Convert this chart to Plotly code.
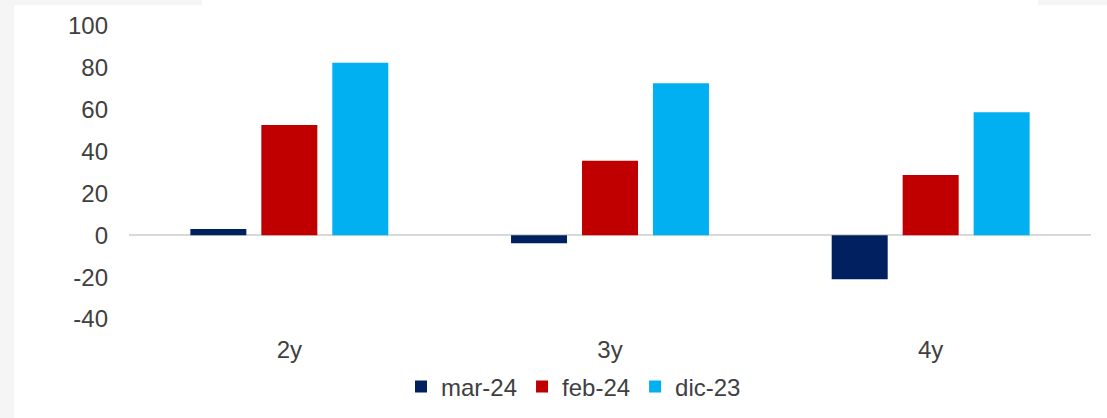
import plotly.graph_objects as go

categories = ["2y", "3y", "4y"]
series_names = ["mar-24", "feb-24", "dic-23"]
mar24 = [3.0, -3.8, -21.0]
feb24 = [52.7, 35.6, 28.8]
dic23 = [82.5, 72.6, 58.8]
colors = ["#002060", "#C00000", "#00B0F0"]
y_ticks = [-40, -20, 0, 20, 40, 60, 80, 100]
y_tick_labels = ["-40", "-20", "0", "20", "40", "60", "80", "100"]

fig = go.Figure()
for name, vals, col in zip(series_names, [mar24, feb24, dic23], colors):
    fig.add_trace(go.Bar(x=categories, y=vals, name=name,
                         marker=dict(color=col, line=dict(width=0))))

W, H = 1107, 418
L, R, T, B = 129, 16, 26, 99
pw, ph = W - L - R, H - T - B

def px(x):
    return (x - L) / pw

def py(y):
    return (H - B - y) / ph

gray = "#f5f5f5"
shapes = [
    dict(type="rect", xref="paper", yref="paper", x0=px(0), x1=px(14), y0=py(H), y1=py(0),
         fillcolor=gray, line=dict(width=0), layer="below"),
    dict(type="rect", xref="paper", yref="paper", x0=px(14), x1=px(202), y0=py(5), y1=py(0),
         fillcolor=gray, line=dict(width=0), layer="below"),
    dict(type="rect", xref="paper", yref="paper", x0=px(1038), x1=px(W), y0=py(5), y1=py(0),
         fillcolor=gray, line=dict(width=0), layer="below"),
]

font = dict(family="Liberation Sans, Arial, sans-serif", size=24, color="#404040")

fig.update_layout(
    width=W, height=H,
    margin=dict(l=L, r=R, t=T, b=B, autoexpand=False),
    paper_bgcolor="white", plot_bgcolor="white",
    barmode="group", bargap=0.336, bargroupgap=0.211,
    font=font,
    showlegend=True,
    legend=dict(orientation="h", x=px(401), xanchor="left", y=py(387), yanchor="middle",
                font=font, bgcolor="rgba(0,0,0,0)", itemclick=False),
    shapes=shapes,
    xaxis=dict(showgrid=False, showline=False, zeroline=False, ticks="",
               ticklabelstandoff=14, tickfont=font),
    yaxis=dict(range=[-40, 100], tickvals=y_ticks, ticktext=y_tick_labels,
               showgrid=False, showline=False,
               zeroline=True, zerolinecolor="#d9d9d9", zerolinewidth=1.5,
               ticks="", ticklabelstandoff=20, tickfont=font),
)

fig.write_html("out.html", config={"displayModeBar": False},
               post_script="document.body.style.margin='0';document.body.style.overflow='hidden';")
